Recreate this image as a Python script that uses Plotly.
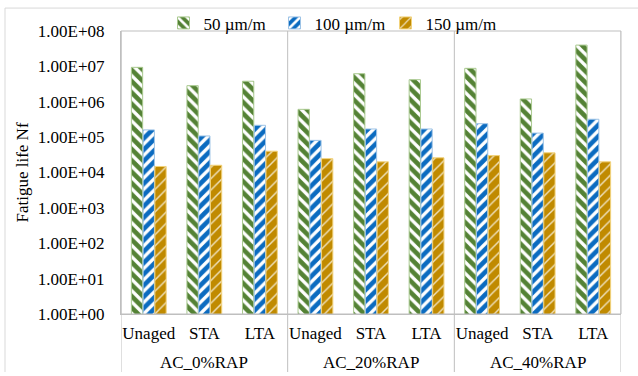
import plotly.graph_objects as go

# Category structure: three mixes, each tested in three ageing states
groups = ["AC_0%RAP", "AC_20%RAP", "AC_40%RAP"]
conditions = ["Unaged", "STA", "LTA"]

# Fatigue life (cycles) at each strain level
nf_50 = [9.4e6, 2.85e6, 3.8e6, 6.1e5, 6.2e6, 4.2e6, 8.8e6, 1.2e6, 4.0e7]
nf_100 = [1.6e5, 1.08e5, 2.16e5, 8.1e4, 1.7e5, 1.7e5, 2.4e5, 1.3e5, 3.2e5]
nf_150 = [1.48e4, 1.6e4, 4.0e4, 2.46e4, 2.0e4, 2.6e4, 3.0e4, 3.6e4, 2.0e4]

y_tick_vals = [1e0, 1e1, 1e2, 1e3, 1e4, 1e5, 1e6, 1e7, 1e8]
y_tick_text = ["1.00E+00", "1.00E+01", "1.00E+02", "1.00E+03", "1.00E+04",
               "1.00E+05", "1.00E+06", "1.00E+07", "1.00E+08"]

x_labels = [c for g in groups for c in conditions]
x_pos = list(range(len(x_labels)))

FONT = "Liberation Serif"
FS = 17
GRID = "#BFBFBF"

series = [
    ("50 µm/m", nf_50, "#548235", "#A9C98F", "\\", 0.42, 1.0),
    ("100 µm/m", nf_100, "#0B6BC0", "#9DC3E6", "/", 0.42, 1.0),
    ("150 µm/m", nf_150, "#C08A00", "#F2D27A", "/", 0.18, 0.75),
]

fig = go.Figure()
for name, vals, color, edge, shape, solidity, fgop in series:
    fig.add_trace(go.Bar(
        x=x_pos, y=vals, name=name,
        marker=dict(
            color=color,
            line=dict(color=edge, width=1),
            pattern=dict(shape=shape, fgcolor="white", bgcolor=color,
                         size=8, solidity=solidity, fgopacity=fgop,
                         fillmode="replace"),
        ),
    ))

shapes = []
# Group dividers running from the top of the plot through the label rows
for xv in [-0.5, 2.5, 5.5, 8.5]:
    shapes.append(dict(type="line", xref="x", yref="paper", x0=xv, x1=xv,
                       y0=1, y1=-0.205, line=dict(color=GRID, width=1)))
# Plot frame
shapes.append(dict(type="rect", xref="paper", yref="paper", x0=0, x1=1,
                   y0=0, y1=1, line=dict(color=GRID, width=1)))
# Outer chart frame (top and left edges)
shapes.append(dict(type="line", xref="paper", yref="paper", x0=-0.232, x1=1.04,
                   y0=1.081, y1=1.081, line=dict(color="#D9D9D9", width=1)))
shapes.append(dict(type="line", xref="paper", yref="paper", x0=-0.232, x1=-0.232,
                   y0=1.081, y1=-0.205, line=dict(color="#D9D9D9", width=1)))

annotations = []
for i, g in enumerate(groups):
    annotations.append(dict(text=g, x=3 * i + 1, xref="x", y=-0.17, yref="paper",
                            showarrow=False, yanchor="middle",
                            font=dict(family=FONT, size=FS, color="black")))

fig.update_layout(
    width=638, height=376,
    margin=dict(l=121, r=17, t=31, b=62, autoexpand=False),
    paper_bgcolor="white", plot_bgcolor="white",
    barmode="group", bargap=0.365, bargroupgap=0.04,
    font=dict(family=FONT, size=FS, color="black"),
    showlegend=True,
    legend=dict(orientation="h", x=0.418, xanchor="center", y=1.027, yanchor="middle",
                font=dict(family=FONT, size=FS, color="black"),
                itemwidth=30, entrywidth=66, tracegroupgap=0,
                bgcolor="rgba(0,0,0,0)"),
    xaxis=dict(range=[-0.5, 8.5], tickmode="array", tickvals=x_pos,
               ticktext=x_labels, showgrid=False, zeroline=False,
               showline=True, linecolor=GRID, ticks="",
               ticklabelstandoff=4, tickfont=dict(family=FONT, size=FS)),
    yaxis=dict(type="log", range=[0, 8], tickmode="array",
               tickvals=y_tick_vals, ticktext=y_tick_text,
               showgrid=False, zeroline=False, showline=True, linecolor=GRID,
               ticks="", ticklabelstandoff=12,
               title=dict(text="Fatigue life Nf", standoff=4,
                          font=dict(family=FONT, size=FS))),
    shapes=shapes,
    annotations=annotations,
)

fig.write_html("out.html")
